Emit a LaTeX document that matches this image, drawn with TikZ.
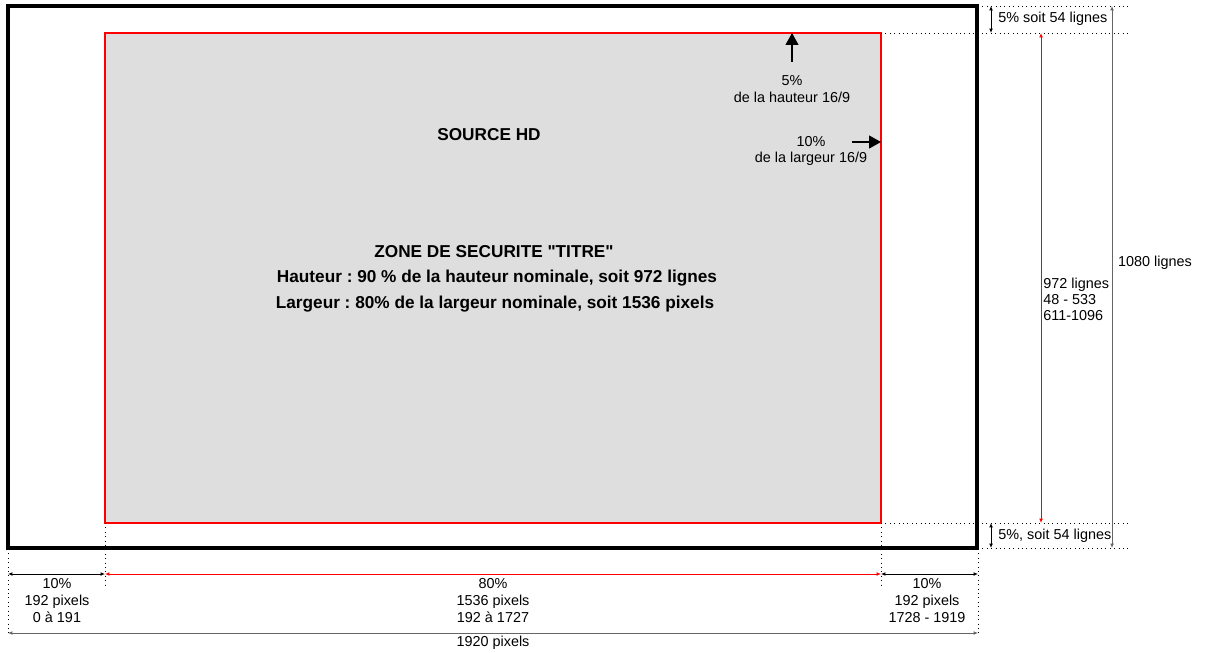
\documentclass[tikz,border=0pt]{standalone}
\usepackage{fontspec}
\setmainfont{Liberation Sans}
\frenchspacing
\usetikzlibrary{arrows.meta}
\tikzset{
  guide/.style={dotted, line width=0.5pt},
  dimline/.style={line width=0.5pt, {Latex[length=2.5pt,width=2.2pt]}-{Latex[length=2.5pt,width=2.2pt]}},
  lbl/.style={font=\fontsize{8.2}{9.6}\selectfont, inner sep=0pt, align=center},
  bigtxt/.style={font=\fontsize{9.8}{12}\selectfont\bfseries, inner sep=0pt},
  bigarrow/.style={line width=0.6pt, -{Triangle[length=0.24cm,width=0.26cm]}}
}
\begin{document}
\begin{tikzpicture}[x=0.02cm,y=-0.02cm]
  \useasboundingbox (0,0) rectangle (1209,652);

  % frame corners
  \coordinate (hdtl) at (8,6);
  \coordinate (hdbr) at (977,548);
  \coordinate (tsl) at (105,33);
  \coordinate (tsbr) at (881,523);

  % zone titre
  \draw[red, fill=black!13, line width=0.6pt] (tsl) rectangle (tsbr);
  \draw[line width=2.3pt] (hdtl) rectangle (hdbr);

  % texts inside
  \node[bigtxt] (src) at (489,135) {SOURCE HD};
  \node[bigtxt] (zone) at (494,252) {ZONE DE SECURITE \textquotedbl TITRE\textquotedbl};
  \node[bigtxt] (haut) at (497,278) {Hauteur : 90 \% de la hauteur nominale, soit 972 lignes};
  \node[bigtxt] (larg) at (495,304) {Largeur : 80\% de la largeur nominale, soit 1536 pixels};

  \node[lbl] (h5) at (792,89) {5\%\\de la hauteur 16/9};
  \coordinate (h5tail) at (792,62);
  \coordinate (h5tip) at (792,33);
  \draw[bigarrow] (h5tail) -- (h5tip);

  \node[lbl] (l10) at (811,151) {10\%\\de la largeur 16/9};
  \coordinate (l10tail) at (852,142);
  \coordinate (l10tip) at (881,142);
  \draw[bigarrow] (l10tail) -- (l10tip);

  % right guides
  \coordinate (g1) at (1130,6);
  \coordinate (g2) at (1130,33);
  \coordinate (g3) at (1130,523);
  \coordinate (g4) at (1130,548);
  \draw[guide] (978,6) -- (g1);
  \draw[guide] (881,33) -- (g2);
  \draw[guide] (881,523) -- (g3);
  \draw[guide] (978,548) -- (g4);

  \coordinate (a1) at (991,6);
  \coordinate (a2) at (991,33);
  \coordinate (a3) at (991,523);
  \coordinate (a4) at (991,548);
  \draw[dimline] (a1) -- (a2);
  \draw[dimline] (a3) -- (a4);
  \node[lbl, anchor=west] (m5t) at (998,19) {5\% soit 54 lignes};
  \node[lbl, anchor=west] (m5b) at (998,536) {5\%, soit 54 lignes};

  \coordinate (r1) at (1041,33);
  \coordinate (r2) at (1041,523);
  \draw[dimline, red] (r1) -- (r2);
  \node[lbl, anchor=north west, align=left, font=\fontsize{8.2}{8.9}\selectfont] (l972) at (1043,278) {972 lignes\\48 - 533\\611-1096};

  \coordinate (k1) at (1112,6);
  \coordinate (k2) at (1112,548);
  \draw[dimline, black!60] (k1) -- (k2);
  \node[lbl] (l1080) at (1155,263) {1080 lignes};

  % bottom guides
  \draw[guide] (8,549) -- (8,633);
  \draw[guide] (105,523) -- (105,587);
  \draw[guide] (881,523) -- (881,587);
  \draw[guide] (978,549) -- (978,633);

  \coordinate (b1) at (8,574);
  \coordinate (b2) at (105,574);
  \coordinate (b3) at (881,574);
  \coordinate (b4) at (978,574);
  \draw[dimline] (b1) -- (b2);
  \draw[dimline, red] (b2) -- (b3);
  \draw[dimline] (b3) -- (b4);
  \node[lbl, anchor=north] (w10a) at (57,578) {10\%\\192 pixels\\0 à 191};
  \node[lbl, anchor=north] (w80) at (493,578) {80\%\\1536 pixels\\192 à 1727};
  \node[lbl, anchor=north] (w10b) at (927,578) {10\%\\192 pixels\\1728 - 1919};

  \coordinate (t1) at (8,633);
  \coordinate (t2) at (978,633);
  \draw[dimline, black!60] (t1) -- (t2);
  \node[lbl] (w1920) at (493,643) {1920 pixels};
\end{tikzpicture}
\end{document}
